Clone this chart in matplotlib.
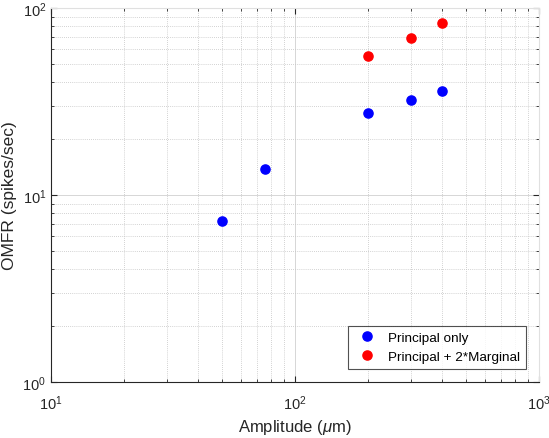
import matplotlib
matplotlib.use("Agg")
import matplotlib.pyplot as plt
from matplotlib.ticker import LogLocator, NullFormatter

plt.rcParams['font.family'] = ['Liberation Sans', 'DejaVu Sans']
plt.rcParams['mathtext.fontset'] = 'custom'
plt.rcParams['mathtext.rm'] = 'Liberation Sans'
plt.rcParams['mathtext.it'] = 'Liberation Sans:italic'

amp_principal = [50, 75, 200, 300, 400]
omfr_principal = [7.3, 13.8, 27.4, 32.4, 36.0]
amp_marginal = [200, 300, 400]
omfr_marginal = [55.4, 69.5, 82.8]

fig = plt.figure(figsize=(5.49, 4.39), dpi=100)
ax = fig.add_axes([51/549, 1-383/439, (539-51)/549, (383-9)/439])

ax.plot(amp_principal, omfr_principal, 'o', color='#0000ff', markersize=6.6, label='Principal only')
ax.plot(amp_marginal, omfr_marginal, 'o', color='#ff0000', markersize=6.6, label='Principal + 2*Marginal')

ax.set_xscale('log')
ax.set_yscale('log')
ax.set_xlim(10, 1000)
ax.set_ylim(1, 100)

ax.grid(True, which='major', color='#d6d6d6', linewidth=0.7, linestyle='-')
ax.grid(True, which='minor', color='#c4c4c4', linewidth=0.6, linestyle=(0, (1, 1.5)))
ax.set_axisbelow(True)

ax.xaxis.set_minor_locator(LogLocator(base=10, subs=range(2, 10)))
ax.yaxis.set_minor_locator(LogLocator(base=10, subs=range(2, 10)))
ax.xaxis.set_minor_formatter(NullFormatter())
ax.yaxis.set_minor_formatter(NullFormatter())

ax.tick_params(which='both', direction='in', top=True, right=True, colors='#262626', labelsize=10.5)
ax.tick_params(which='major', length=4)
ax.tick_params(which='minor', length=2.5)
for s in ['left', 'bottom']:
    ax.spines[s].set_color('#262626')
for s in ['top', 'right']:
    ax.spines[s].set_color('#e0e0e0')
ax.tick_params(axis='x', pad=8)

ax.set_xlabel(r'Amplitude ($\mu$m)', fontsize=12, color='#262626')
ax.set_ylabel('OMFR (spikes/sec)', fontsize=12.5, color='#262626')

leg = ax.legend(loc='lower right', fontsize=9.7, frameon=True, fancybox=False,
                edgecolor='#262626', borderpad=0.4, handletextpad=0.6, borderaxespad=1.0)
leg.get_frame().set_linewidth(0.8)

fig.savefig('out.png', dpi=100)
